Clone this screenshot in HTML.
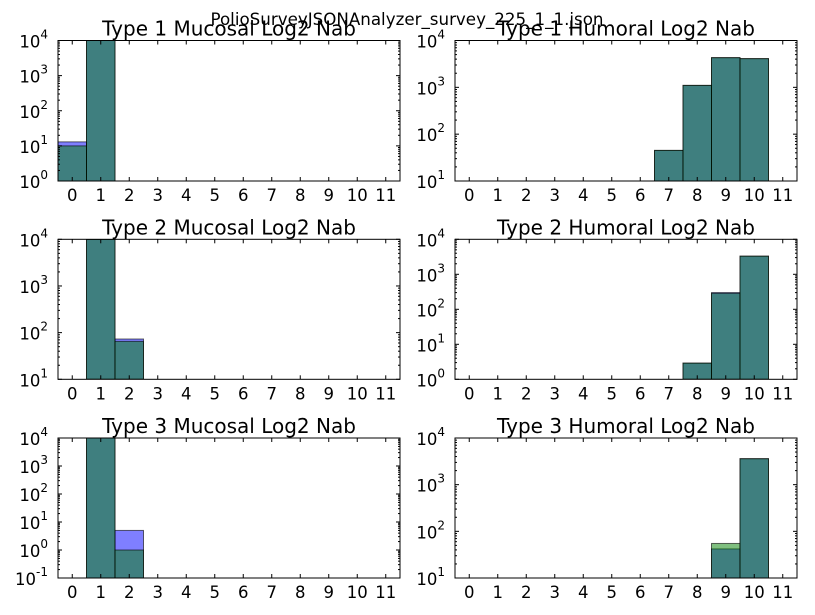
<!DOCTYPE html>
<html><head><meta charset="utf-8"><style>
body{margin:0;background:#fff;}
svg{display:block;font-family:"DejaVu Sans","Liberation Sans",sans-serif;}
</style></head><body>
<svg id="fig" width="815" height="615" viewBox="0 0 815 615" xmlns="http://www.w3.org/2000/svg">
<rect width="815" height="615" fill="#fff"/>
<text x="407" y="25" text-anchor="middle" font-size="16.7">PolioSurveyJSONAnalyzer_survey_225_1_1.json</text>
</svg>
<script>
const bins = [0,1,2,3,4,5,6,7,8,9,10,11];
const titles = ["Type 1 Mucosal Log2 Nab","Type 1 Humoral Log2 Nab","Type 2 Mucosal Log2 Nab","Type 2 Humoral Log2 Nab","Type 3 Mucosal Log2 Nab","Type 3 Humoral Log2 Nab"];
const yMinExp = [0,1,1,0,-1,1];
const yMaxExp = [4,4,4,4,4,4];
// blue series values per panel (0 = empty)
const blueVals = [
 [13,20000,0,0,0,0,0,0,0,0,0,0],
 [0,0,0,0,0,0,0,45,1100,4300,4100,0],
 [0,20000,73,0,0,0,0,0,0,0,0,0],
 [0,0,0,0,0,0,0,0,2.9,300,3300,0],
 [0,20000,5,0,0,0,0,0,0,0,0,0],
 [0,0,0,0,0,0,0,0,0,42,3600,0]
];
const greenVals = [
 [10,20000,0,0,0,0,0,0,0,0,0,0],
 [0,0,0,0,0,0,0,45,1100,4300,4100,0],
 [0,20000,65,0,0,0,0,0,0,0,0,0],
 [0,0,0,0,0,0,0,0,2.9,286,3300,0],
 [0,20000,1,0,0,0,0,0,0,0,0,0],
 [0,0,0,0,0,0,0,0,0,55,3600,0]
];
const NS="http://www.w3.org/2000/svg";
const svg=document.getElementById('fig');
function mk(tag,attrs,parent){const e=document.createElementNS(NS,tag);for(const k in attrs)e.setAttribute(k,attrs[k]);(parent||svg).appendChild(e);return e;}
const colX=[[58,400],[455,797]];
const rowY=[[40.5,181],[239.3,379.3],[438,578]];
for(let p=0;p<6;p++){
 const [x0,x1]=colX[p%2];const [y0,y1]=rowY[Math.floor(p/2)];
 const g=mk('g',{});
 
 
 const lo=yMinExp[p],hi=yMaxExp[p];
 const sx=v=>x0+(v+0.5)/12*(x1-x0);
 const sy=v=>{let l=Math.log10(v);if(l>hi)l=hi;return y1-(l-lo)/(hi-lo)*(y1-y0);};
 const clip=mk('clipPath',{id:'c'+p},g);mk('rect',{x:x0,y:y0,width:x1-x0,height:y1-y0},clip);
 const bars=mk('g',{'clip-path':'url(#c'+p+')'},g);
 [[blueVals[p],'#0000ff','blue'],[greenVals[p],'#008000','green']].forEach(([vals,col,nm])=>{
  vals.forEach((v,i)=>{if(!v)return;
   const yt=sy(v);
   const r=mk('rect',{x:sx(bins[i]-0.5),y:yt,width:sx(bins[i]+0.5)-sx(bins[i]-0.5),height:y1-yt,fill:col,'fill-opacity':0.5,stroke:'#000','stroke-opacity':0.6,'stroke-width':1},bars);
   
   
  });
 });
 bins.forEach(b=>{const x=sx(b);
  mk('line',{x1:x,x2:x,y1:y1,y2:y1-4,stroke:'#000'},g);
  mk('line',{x1:x,x2:x,y1:y0,y2:y0+4,stroke:'#000'},g);
  const t=mk('text',{x:x,y:y1+20,'text-anchor':'middle','font-size':16.5},g);t.textContent=b;
  
  
 });
 for(let e=lo;e<=hi;e++){const y=sy(Math.pow(10,e));
  mk('line',{x1:x0,x2:x0+4,y1:y,y2:y,stroke:'#000'},g);
  mk('line',{x1:x1,x2:x1-4,y1:y,y2:y,stroke:'#000'},g);
  if(e<hi)for(let m=2;m<10;m++){const ym=sy(m*Math.pow(10,e));
   mk('line',{x1:x0,x2:x0+2,y1:ym,y2:ym,stroke:'#000'},g);
   mk('line',{x1:x1,x2:x1-2,y1:ym,y2:ym,stroke:'#000'},g);}
  const t=mk('text',{x:x0-10,y:y+7,'text-anchor':'end','font-size':16.5},g);
  
  
  t.appendChild(document.createTextNode('10'));
  const s=mk('tspan',{dy:-9,'font-size':12},t);s.textContent=e;
 }
 mk('rect',{x:x0,y:y0,width:x1-x0,height:y1-y0,fill:'none',stroke:'#000','stroke-width':1},g);
 const tt=mk('text',{x:(x0+x1)/2,y:y0-5,'text-anchor':'middle','font-size':20},g);tt.textContent=titles[p];
 
 
}
</script>
</body></html>
